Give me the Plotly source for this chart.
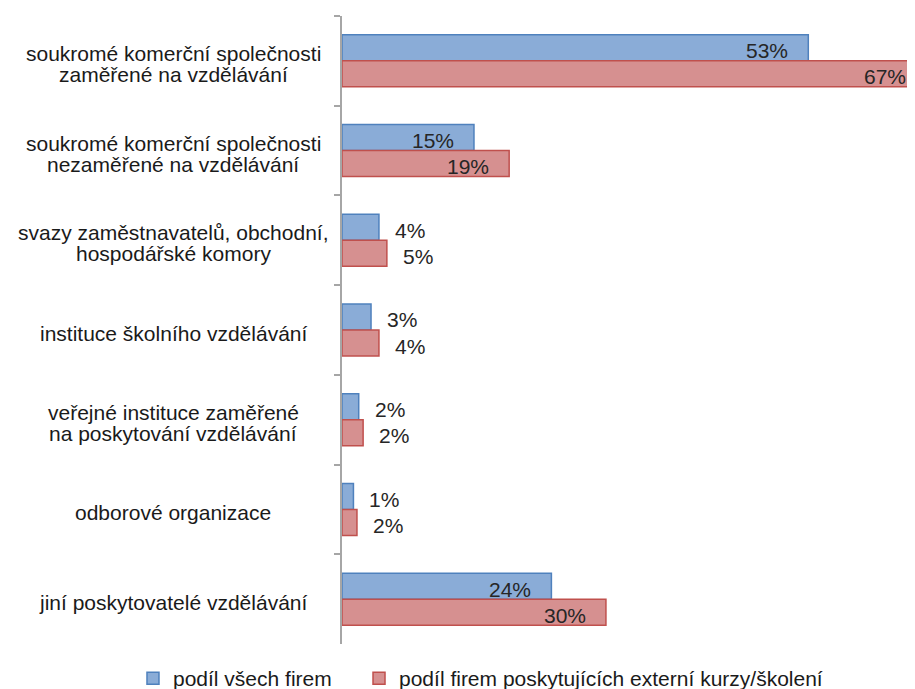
import plotly.graph_objects as go

categories = [
    "soukromé komerční společnosti<br>zaměřené na vzdělávání",
    "soukromé komerční společnosti<br>nezaměřené na vzdělávání",
    "svazy zaměstnavatelů, obchodní,<br>hospodářské komory",
    "instituce školního vzdělávání",
    "veřejné instituce zaměřené<br>na poskytování vzdělávání",
    "odborové organizace",
    "jiní poskytovatelé vzdělávání",
]
all_firms = [53, 15, 4.2, 3.3, 1.9, 1.3, 23.8]
training_firms = [67, 19, 5.1, 4.2, 2.4, 1.7, 30]
all_labels = ["53%", "15%", "4%", "3%", "2%", "1%", "24%"]
training_labels = ["67%", "19%", "5%", "4%", "2%", "2%", "30%"]
series_names = ["podíl všech firem", "podíl firem poskytujících externí kurzy/školení"]

FONT = "Liberation Sans, Arial, sans-serif"
BLUE, BLUE_EDGE = "#8aacd7", "#4f81bd"
RED, RED_EDGE = "#d69090", "#c0504d"
X_MAX = 64.9  # the 67 % bar runs off the right edge in the original

fig = go.Figure()
for name, vals, fill, edge, leg in [
    (series_names[0], all_firms, BLUE, BLUE_EDGE, "legend"),
    (series_names[1], training_firms, RED, RED_EDGE, "legend2"),
]:
    fig.add_trace(go.Bar(
        y=categories, x=vals, name=name, orientation="h", legend=leg,
        marker=dict(color=fill, line=dict(color=edge, width=1.5)),
        hoverinfo="skip",
    ))

# data labels: inside end for long bars, just past the end for short ones
for offset, vals, labels in [(-0.145, all_firms, all_labels), (0.145, training_firms, training_labels)]:
    for i, (v, t) in enumerate(zip(vals, labels)):
        big = v >= 10
        clipped = v > X_MAX
        fig.add_annotation(
            x=min(v, X_MAX), y=i + offset, xref="x", yref="y", text=t, showarrow=False,
            xanchor="right" if big else "left",
            xshift=(-5 if clipped else -18) if big else 14, yshift=-3,
            font=dict(size=21, color="#262626", family=FONT),
        )

# category labels, centred lines with tight spacing
for i, c in enumerate(categories):
    lines = c.split("<br>")
    n = len(lines)
    for j, line in enumerate(lines):
        fig.add_annotation(
            x=0, y=i, xref="paper", yref="y", text=line, showarrow=False,
            xanchor="center", xshift=-169, yshift=((n - 1) / 2 - j) * 21 - 3,
            font=dict(size=21, color="#1a1a1a", family=FONT),
        )

fig.update_yaxes(
    type="category", autorange="reversed", showticklabels=False,
    showline=True, linecolor="#a6a6a6", linewidth=1.5,
    ticks="outside", tickson="boundaries", ticklen=6, tickcolor="#a6a6a6", tickwidth=1.5,
    showgrid=False,
)
fig.update_xaxes(range=[0, X_MAX], visible=False, showgrid=False)

legend_style = dict(
    orientation="h", xref="container", yref="container",
    xanchor="left", y=0.0455, yanchor="top",
    font=dict(size=21, family=FONT, color="#1a1a1a"), itemwidth=30,
)
fig.update_layout(
    width=907, height=681,
    margin=dict(l=334, r=2, t=8, b=45),
    barmode="group", bargap=0.42, bargroupgap=0,
    plot_bgcolor="white", paper_bgcolor="white",
    font=dict(family=FONT, size=21, color="#1a1a1a"),
    showlegend=True,
    legend=dict(x=0.1378, **legend_style),
    legend2=dict(x=0.387, **legend_style),
)
fig.write_html("out.html")
